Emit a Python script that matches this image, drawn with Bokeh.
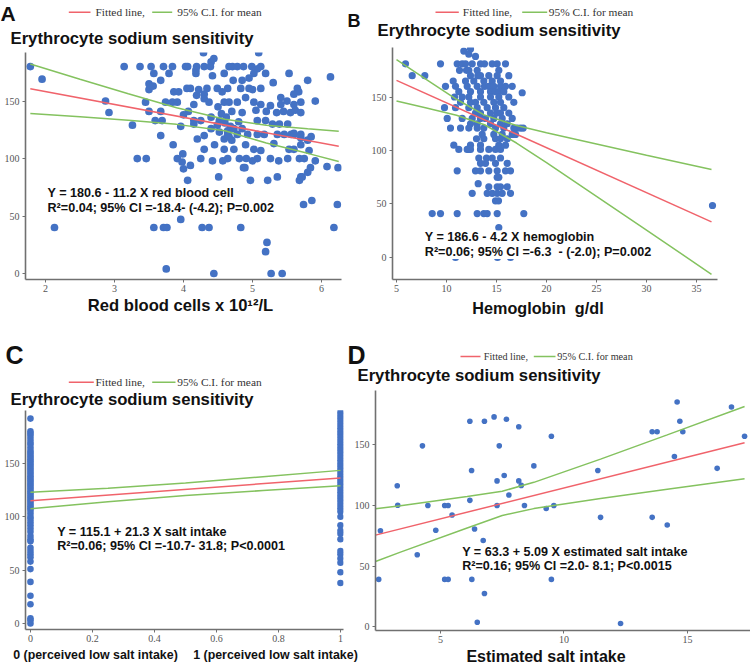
from bokeh.plotting import figure
from bokeh.layouts import column, row
from bokeh.models import Label, Arrow, NumeralTickFormatter
from bokeh.embed import file_html
from bokeh.resources import INLINE

# ---------------- data ----------------
# Panel A: red blood cells (x 10^12/L) vs erythrocyte sodium sensitivity
rbc = [4.29, 4.40, 5.09, 4.44,
       1.78, 3.14, 3.37, 3.53, 3.71, 3.84, 4.03, 4.06, 4.19, 4.30, 4.39, 4.66, 4.71, 4.78, 4.87, 4.99, 5.12, 5.07, 4.18,
       1.95, 3.57, 3.67, 3.79, 4.18, 4.42, 4.59, 4.72, 4.85, 5.02, 5.19, 5.53, 5.80, 6.13, 3.50, 4.95, 5.30,
       3.50, 3.56, 3.86, 3.93, 4.05, 4.10, 4.19, 4.34, 4.49, 4.64, 4.83, 4.95, 5.12, 5.41, 5.65, 5.67, 4.22, 4.56, 5.00, 5.60, 4.30,
       2.87, 3.45, 3.74, 3.84, 3.91, 4.30, 4.37, 4.59, 4.66, 4.78, 4.90, 5.02, 5.12, 5.26, 5.41, 5.60, 5.70, 5.91, 4.15, 4.50, 5.50,
       2.92, 3.50, 3.67, 4.07, 4.15, 4.25, 4.55, 4.70, 4.85, 5.05, 5.20, 5.35, 5.45, 5.55, 5.62, 5.70, 4.00, 4.40,
       3.26, 3.59, 3.69, 3.96, 4.15, 4.40, 4.49, 4.64, 4.73, 4.85, 5.07, 5.19, 5.29, 5.39, 5.51, 5.60, 5.70, 4.60, 4.68, 4.52, 4.80, 4.62,
       3.67, 4.20, 4.30, 4.52, 4.59, 4.64, 4.78, 4.93, 5.07, 5.17, 5.31, 5.36, 5.46, 5.56, 5.60, 5.70, 5.80, 5.85, 4.70, 4.66,
       4.30, 4.59, 4.73, 5.02, 5.12, 5.53, 5.60, 5.70, 5.82, 4.45, 4.90, 3.85,
       3.33, 3.46, 3.91, 3.99, 4.25, 4.64, 4.81, 4.91, 5.07, 5.26, 5.51, 5.68, 5.75, 6.08, 6.24, 3.98, 4.42, 4.57, 5.00, 5.38, 5.91,
       4.00, 4.87, 4.89, 5.84, 5.72, 4.10, 5.80,
       4.51, 5.36, 5.70, 4.06, 4.97, 5.22, 5.68,
       5.74, 6.23, 5.86, 3.96,
       2.13, 3.57, 3.71, 3.76, 4.27, 4.37, 4.83, 6.18,
       5.21, 5.19, 3.75, 4.44, 5.27, 5.43]
ess_a = [192, 184, 192, 187,
         180, 180, 180, 180, 180, 180, 180, 180, 180, 180, 180, 180, 180, 180, 180, 180, 180, 178, 177,
         169, 174, 168, 174, 174, 172, 174, 168, 168, 174, 174, 174, 168, 171, 165, 170, 166,
         160, 163, 158, 158, 161, 161, 155, 161, 161, 161, 161, 161, 161, 153, 161, 158, 160, 158, 160, 156, 156,
         150, 149, 149, 149, 149, 152, 149, 149, 149, 149, 153, 149, 147, 146, 147, 147, 149, 150, 147, 145, 150,
         140, 141, 141, 141, 133, 133, 139, 141, 140, 142, 141, 140, 141, 140, 142, 140, 138, 136,
         129, 133, 133, 128, 130, 126, 129, 124, 126, 126, 133, 133, 130, 130, 130, 122, 118, 131, 128, 133, 132, 136,
         120, 117, 120, 123, 117, 121, 121, 121, 121, 121, 113, 121, 121, 121, 121, 121, 116, 119, 116, 119,
         108, 108, 108, 108, 107, 108, 108, 112, 107, 112, 112, 112,
         100, 100, 100, 104, 100, 100, 100, 100, 100, 100, 100, 100, 100, 93, 92, 97, 98, 98, 98, 98, 98,
         91, 92, 92, 92, 84, 94, 88,
         84, 84, 84, 81, 81, 81, 81,
         60, 60, 63.5, 47,
         40, 40, 40, 40, 40, 40, 40, 40,
         27, 19, 4, 0, 0, 0]
fit_x_a = [1.78, 6.25]
fit_y_a = [160.7, 110.6]
ci_x_a = [1.78, 2.5, 3.2, 3.9, 4.6, 5.2, 5.8, 6.25]
ci_hi_a = [182.2, 168.9, 156.3, 144.1, 134.1, 129.0, 125.8, 123.8]
ci_lo_a = [139.2, 136.3, 133.3, 129.7, 124.1, 113.5, 104.5, 97.4]

# Panel B: hemoglobin (g/dl)
hb = [11.73, 12.23, 12.4, 12.9,
      5.9, 9.4, 11.07, 11.57, 11.9, 12.57, 13.4, 13.8, 14.57, 15.07, 15.9,
      11.3, 12.0, 12.23, 13.07, 15.23,
      6.57, 7.83, 12.4, 13.13, 13.4, 14.23, 15.07, 16.23,
      10.67, 11.9, 12.73, 13.73, 14.57, 15.4,
      9.9, 10.9, 12.07, 13.07, 13.8, 14.23, 14.73, 15.4, 15.9, 16.57,
      11.23, 12.4, 13.4, 14.4, 14.9, 15.23, 15.73,
      10.8, 11.57, 12.23, 13.4, 14.4, 15.23, 16.23, 17.57,
      11.4, 12.4, 12.9, 13.73, 14.73, 15.4, 16.73,
      9.8, 10.9, 12.23, 13.07, 14.07, 14.9, 15.73,
      12.9, 13.4, 14.4, 15.07, 15.4, 16.23,
      10.07, 11.57, 12.57, 13.4, 13.9, 14.73, 15.57, 16.57,
      12.4, 13.07, 14.4, 15.4, 16.07,
      10.4, 11.4, 12.23, 13.07, 13.73, 14.9, 15.73, 16.73, 17.07, 17.4, 17.67,
      13.57, 14.73, 15.57, 16.57, 16.9,
      13.0, 13.73, 14.9, 15.4, 16.07,
      10.73, 12.4, 13.4, 15.23, 15.9,
      11.23, 12.07, 12.23, 12.4, 13.4, 14.23, 14.9, 15.4,
      13.23, 14.0, 14.57, 15.4,
      13.4, 13.9, 14.9, 16.07,
      11.07, 12.9, 13.4, 14.23, 15.07, 15.9, 16.4,
      15.07, 15.23, 13.17,
      14.23, 15.07, 15.4, 16.07,
      12.57, 14.07, 14.57, 15.07, 15.57, 16.4,
      14.9, 15.2,
      8.57, 9.4, 11.07, 13.07, 13.73, 14.07, 15.07, 17.73,
      15.23, 10.9, 15.1, 16.4, 36.6]
ess_b = [193, 190, 195, 188,
         181, 181, 181, 181, 181, 181, 181, 181, 181, 181, 181,
         175, 175, 175, 175, 175,
         170, 170, 170, 170, 170, 170, 170, 170,
         165, 165, 165, 165, 165, 165,
         160, 160, 160, 160, 160, 160, 160, 160, 160, 160,
         155, 155, 155, 155, 155, 155, 155,
         150, 150, 150, 150, 150, 150, 150, 154,
         145, 145, 145, 145, 145, 145, 145,
         140, 140, 140, 140, 140, 140, 140,
         135, 135, 135, 135, 135, 135,
         130, 130, 130, 130, 130, 130, 130, 130,
         125, 125, 125, 125, 125,
         121, 121, 121, 121, 121, 121, 121, 121, 121, 121, 121,
         115, 115, 115, 115, 115,
         111, 111, 111, 111, 111,
         105, 105, 105, 105, 105,
         101, 101, 101, 101, 101, 101, 101, 101,
         93, 93, 93, 93,
         88, 88, 88, 88,
         81, 81, 81, 81, 81, 81, 81,
         75, 75, 69,
         66, 66, 66, 66,
         60, 60, 60, 60, 60, 60,
         53, 53,
         41, 41, 41, 41, 41, 41, 41, 41,
         28, 0, 0, 0, 48.6]
fit_x_b = [5, 36.5]
fit_y_b = [165.6, 33.3]
ci_x_b = [5, 8, 11, 13.8, 17, 20, 25, 30, 36.5]
ci_hi_b = [185.0, 166.3, 147.9, 133.1, 123.4, 116.6, 106.1, 95.6, 82.3]
ci_lo_b = [146.2, 139.7, 132.9, 124.1, 107.0, 88.6, 57.1, 25.6, -15.7]

# Panel C: perceived salt intake (0 / 1)
ess_c0 = [192, 180, 178, 176, 173, 170, 168, 165, 162, 160, 158, 156, 154, 152, 150, 148, 146, 144, 142,
          140, 138, 136, 134, 132, 130, 128, 126, 124, 122, 120, 118, 116, 114, 112, 110, 108, 106,
          103, 100, 98, 95, 92, 89, 86, 82, 79, 77, 71, 68, 65, 62, 58, 51, 39, 26, 18, 5, 3, 0]
ess_c1 = [201, 198, 195, 192, 189, 186, 183, 180, 177, 174, 171, 168, 165, 162, 159, 156, 153, 150, 147,
          144, 141, 138, 135, 132, 129, 126, 123, 120, 117, 114, 111, 108, 105, 100, 92, 87, 84, 79,
          68, 65, 61, 57, 48, 38]
fit_x_c = [0, 1]
fit_y_c = [115.1, 136.4]
ci_x_c = [0, 0.25, 0.5, 0.75, 1]
ci_hi_c = [123.0, 126.8, 131.7, 137.5, 143.5]
ci_lo_c = [107.5, 114.0, 119.9, 124.6, 129.0]

# Panel D: estimated salt intake
salt = [14.58, 16.78, 6.19, 6.78, 7.17, 7.67, 8.17, 14.69, 13.57, 13.77, 14.81, 17.31, 9.49, 4.27, 7.38,
        8.78, 6.26, 11.37, 16.2, 14.47, 7.58, 7.29, 8.17, 8.27, 7.77, 6.19, 4.49, 5.17, 5.31, 7.29, 8.40,
        9.28, 9.59, 5.47, 11.48, 13.57, 14.18, 4.81, 6.38, 6.73, 4.06, 6.19, 5.17, 5.31, 6.27, 9.49, 6.78,
        6.49, 12.29, 3.25, 2.57, 2.50, 3.27]
ess_d = [184.8, 180.7, 169, 169, 172.6, 170.7, 164.5, 169, 160.4, 160.4, 160.4, 156.7, 156.7, 148.8, 148.8,
         132.3, 128.5, 128.5, 130.3, 140, 124.4, 120, 120, 116.3, 108.4, 104, 99.8, 99.8, 99.8, 99.8, 99.8,
         97.3, 99.8, 91.9, 90, 90, 83.7, 79.4, 80.5, 71, 59.3, 59.3, 39, 39, 39, 39, 27.4,
         3.8, 2.7, 116, 79, 39, 100]
fit_x_d = [2.37, 17.31]
fit_y_d = [75.4, 151.4]
ci_x_d = [2.37, 3.38, 6.08, 7.5, 8.78, 11.48, 14.18, 17.31]
ci_hi_d = [97.1, 99.6, 107.1, 111.5, 118.8, 137.9, 157.8, 181.1]
ci_lo_d = [53.7, 61.4, 81.3, 91.5, 97.2, 105.5, 113.2, 121.7]

TITLE = "Erythrocyte sodium sensitivity"
LEG_FIT = "Fitted line,"
LEG_CI = "95% C.I. for mean"
NB = "\u00a0"

# ---------------- styling ----------------
BLUE = "#4472C4"
RED = "#F0636B"
GREEN = "#84C25F"
SANS = "Liberation Sans"
SERIF = "Liberation Serif"


def make_main(w, h, fl, fr, fb, xr, yr, xticks, yticks):
    p = figure(width=w, height=h, x_range=xr, y_range=yr, output_backend="svg",
               toolbar_location=None, min_border_left=fl, min_border_right=fr,
               min_border_top=0, min_border_bottom=fb)
    p.grid.visible = False
    p.outline_line_color = None
    p.background_fill_color = "white"
    p.border_fill_color = "white"
    p.xaxis.ticker = xticks
    p.yaxis.ticker = yticks
    for ax in p.axis:
        ax.axis_line_color = "#707070"
        ax.axis_line_width = 1.6
        ax.major_tick_line_color = "#707070"
        ax.major_tick_out = 3
        ax.major_tick_in = 0
        ax.minor_tick_line_color = None
        ax.major_label_text_font = SERIF
        ax.major_label_text_font_size = "10px"
        ax.major_label_text_color = "#555555"
        ax.major_label_standoff = 3
    p.xaxis.major_label_standoff = 2
    return p


def make_strip(w, h):
    s = figure(width=w, height=h, x_range=(0, w), y_range=(0, h), output_backend="svg",
               toolbar_location=None, min_border=0, x_axis_type=None, y_axis_type=None)
    s.grid.visible = False
    s.outline_line_color = None
    s.background_fill_color = "white"
    s.border_fill_color = "white"
    return s


def txt(p, fl, fbot, x, y, text, size, bold=True, align="left", font=SANS, color="#111111",
        mid=False, bg=None):
    # y is the text baseline (top-down canvas px) unless mid=True (then vertical centre);
    # the text is anchored on its middle, which renders reliably.
    px = float(size.replace("px", ""))
    ym = y if mid else y - 0.35 * px
    lab = Label(x=x - fl, y=fbot - ym, x_units="screen", y_units="screen", text=text,
                text_font=font, text_font_size=size,
                text_font_style="bold" if bold else "normal",
                text_color=color, text_align=align, text_baseline="middle")
    if bg is not None:
        lab.background_fill_color = bg
        lab.background_fill_alpha = 1.0
    p.add_layout(lab)


def add_lines(p, fx, fy, cx, chi, clo):
    p.line(cx, chi, line_color=GREEN, line_width=1.5)
    p.line(cx, clo, line_color=GREEN, line_width=1.5)
    p.line(fx, fy, line_color=RED, line_width=1.5)


def key_line(s, h, x0, x1, yc, color):
    s.add_layout(Arrow(end=None, start=None, x_start=x0, y_start=h - yc, x_end=x1, y_end=h - yc,
                       line_color=color, line_width=1.5))


def top_strip(w, h, letter, letter_x, letter_y, letter_size, key, yc, title_x, title_y, leg_size):
    s = make_strip(w, h)
    rx0, rx1, rtx, gx0, gx1, gtx = key
    key_line(s, h, rx0, rx1, yc, RED)
    key_line(s, h, gx0, gx1, yc, GREEN)
    txt(s, 0, h, rtx, yc, LEG_FIT, leg_size, bold=False, font=SERIF, color="#333333", mid=True)
    txt(s, 0, h, gtx, yc, LEG_CI, leg_size, bold=False, font=SERIF, color="#333333", mid=True)
    txt(s, 0, h, letter_x, letter_y, letter, letter_size)
    txt(s, 0, h, title_x, title_y, TITLE, "16.7px")
    return s


ANN = "12.6px"

# ---------------- Panel A (frame x 25..341, y 52..279) ----------------
sA = top_strip(345, 52, "A", 0, 20, "21px", (68.3, 90.0, 95.0, 151.7, 171.7, 176.7), 11.7, 10, 43.5, "11.4px")
pA = make_main(345, 244, 25, 4, 17, (1.71, 6.29), (-5.2, 192.2), [2, 3, 4, 5, 6], [0, 50, 100, 150])
pA.scatter(rbc, ess_a, size=7.7, color=BLUE, line_color=None)
add_lines(pA, fit_x_a, fit_y_a, ci_x_a, ci_hi_a, ci_lo_a)
txt(pA, 25, 279, 47, 196.7, "Y = 180.6 - 11.2 X red blood cell", ANN, bg="white")
txt(pA, 25, 279, 47, 211.5, "R\u00b2=0.04; 95% CI =-18.4- (-4.2); P=0.002", ANN, bg="white")

# ---------------- Panel B (frame x 392..717, y 47..279) ----------------
sB = top_strip(405, 47, "B", 2, 26.7, "18px", (90.0, 113.3, 117.3, 176.7, 201.7, 203.3), 11.7, 32, 36, "11.4px")
pB = make_main(405, 249, 47, 33, 17, (4.6, 37.1), (-20.6, 196.3), [5, 10, 15, 20, 25, 30, 35], [0, 50, 100, 150])
pB.scatter(hb, ess_b, size=7.2, color=BLUE, line_color=None)
add_lines(pB, fit_x_b, fit_y_b, ci_x_b, ci_hi_b, ci_lo_b)
txt(pB, 47, 232, 79.3, 241.3 - 47, "Y = 186.6 - 4.2 X hemoglobin", ANN, bg="white")
txt(pB, 47, 232, 79.3, 256.0 - 47, "R\u00b2=0.06; 95% CI =-6.3" + NB + " - (-2.0); P=0.002", ANN, bg="white")

# x-axis titles of the top row (strip y 296..330)
bot1 = make_strip(750, 34)
txt(bot1, 0, 34, 180, 14.8, "Red blood cells x 10\u00b9\u00b2/L", "16.6px", align="center")
txt(bot1, 0, 34, 537.5, 17, "Hemoglobin" + NB + NB + "g/dl", "16.2px", align="center")

# ---------------- Panel C (frame x 25..343, y 410..629) ----------------
sC = top_strip(345, 80, "C", 5, 33.3, "25px", (68.3, 93.3, 95.0, 151.7, 175.0, 176.7), 51.7, 10, 75, "11.4px")
pC = make_main(345, 237, 25, 2, 18, (-0.016, 1.0097), (-5.6, 199.6), [0, 0.2, 0.4, 0.6, 0.8, 1], [0, 50, 100, 150])
pC.xaxis.formatter = NumeralTickFormatter(format="0.[0]")
pC.scatter([0] * len(ess_c0), ess_c0, size=6.6, color=BLUE, line_color=None)
pC.scatter([1] * len(ess_c1), ess_c1, size=6.6, color=BLUE, line_color=None)
add_lines(pC, fit_x_c, fit_y_c, ci_x_c, ci_hi_c, ci_lo_c)
txt(pC, 25, 219, 56.7, 535.5 - 410, "Y = 115.1 + 21.3 X salt intake", ANN, bg="white")
txt(pC, 25, 219, 56.7, 550.0 - 410, "R\u00b2=0.06; 95% CI =-10.7- 31.8; P<0.0001", ANN, bg="white")

# ---------------- Panel D (frame x 375..750, y 390..630) ----------------
sD = top_strip(405, 60, "D", 2, 33.3, "25px", (115.0, 135.0, 138.3, 188.3, 210.0, 211.7), 26, 12, 51, "10.2px")
pD = make_main(405, 257, 30, 0, 17, (2.37, 17.55), (-3.0, 194.3), [5, 10, 15], [0, 50, 100, 150])
pD.scatter(salt, ess_d, size=5.6, color=BLUE, line_color=None)
add_lines(pD, fit_x_d, fit_y_d, ci_x_d, ci_hi_d, ci_lo_d)
txt(pD, 30, 240, 116.7, 555.5 - 390, "Y = 63.3 + 5.09 X estimated salt intake", ANN, bg="white")
txt(pD, 30, 240, 116.7, 569.5 - 390, "R\u00b2=0.16; 95% CI =2.0- 8.1; P<0.0015", ANN, bg="white")

# x-axis titles of the bottom row (strip y 647..665)
bot2 = make_strip(750, 18)
txt(bot2, 0, 18, 12.7, 11.5, "0 (perceived low salt intake)", "12.4px")
txt(bot2, 0, 18, 192.7, 11.8, "1 (perceived low salt intake)", "12.4px")
txt(bot2, 0, 18, 545.5, 14.4, "Estimated salt intake", "16px", align="center")

# strips are wrapped in their own rows so that their frames are not aligned with the plots below
layout = column(row(column(row(sA), pA), column(row(sB), pB)), bot1,
                row(column(row(sC), pC), column(row(sD), pD)), bot2)
open("out.html", "w").write(file_html(layout, INLINE, title="Erythrocyte sodium sensitivity"))
